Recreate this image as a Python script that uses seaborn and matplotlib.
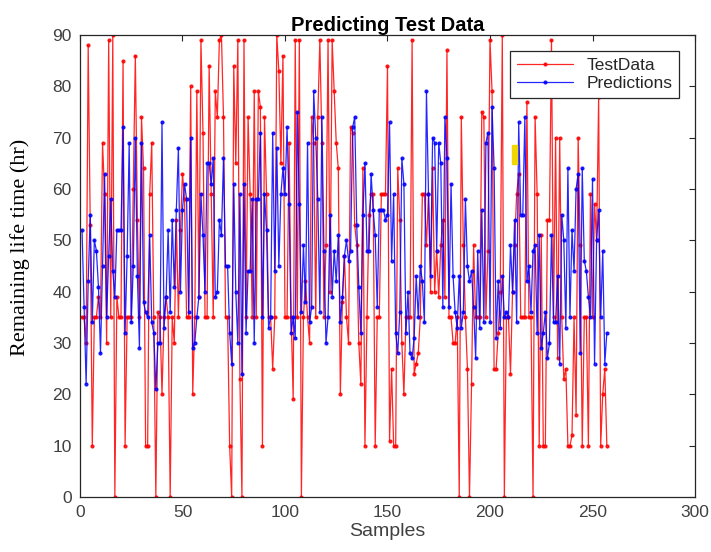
import numpy as np
import pandas as pd
import matplotlib
matplotlib.use('Agg')
import matplotlib.pyplot as plt
import seaborn as sns
from matplotlib.patches import Rectangle

# ---------------------------------------------------------
# Dados
# ---------------------------------------------------------
test_data = [
    35, 35, 30, 88, 53, 10, 35, 35, 39, 35, 69, 59, 30, 89, 35, 90, 0, 39, 35, 35, 85, 10, 35, 35, 35, 60, 86, 54,
    35, 74, 64, 10, 10, 59, 69, 35, 0, 36, 35, 20, 35, 39, 35, 0, 35, 30, 54, 35, 52, 63, 58, 35, 35, 80, 20, 35, 79,
    39, 89, 71, 35, 35, 84, 59, 35, 79, 74, 89, 90, 74, 35, 35, 10, 0, 84, 65, 89, 23, 0, 89, 35, 74, 59, 35, 79, 35,
    79, 76, 10, 74, 59, 35, 35, 25, 35, 90, 83, 65, 86, 35, 35, 69, 35, 19, 89, 35, 89, 0, 35, 42, 35, 30, 74, 69, 35, 74,
    89, 69, 35, 49, 89, 40, 89, 79, 69, 64, 20, 38, 47, 35, 30, 72, 71, 53, 49, 30, 22, 64, 10, 35, 55, 59, 59, 10,
    35, 35, 59, 59, 59, 84, 11, 25, 10, 10, 64, 54, 30, 20, 35, 35, 35, 89, 24, 26, 28, 35, 59, 59, 49, 59, 40, 64, 40,
    48, 39, 49, 54, 39, 87, 35, 35, 30, 30, 35, 0, 74, 49, 35, 25, 0, 22, 49, 35, 35, 35, 75, 74, 35, 48, 89, 79, 25, 25,
    32, 40, 90, 0, 35, 35, 24, 40, 49, 59, 63, 35, 35, 35, 77, 35, 35, 0, 74, 59, 10, 51, 10, 10, 54, 54, 89, 35, 70,
    27, 70, 35, 23, 25, 10, 10, 12, 35, 16, 70, 49, 10, 35, 35, 10, 59, 35, 57, 50, 78, 10, 20, 25, 10,
]

predictions = [
    52, 37, 22, 42, 55, 34, 50, 48, 41, 28, 45, 63, 35, 47, 58, 44, 39, 52, 52, 52, 72, 32, 47, 69, 34, 45, 70, 43,
    29, 69, 38, 36, 35, 51, 34, 32, 21, 30, 30, 73, 33, 39, 52, 36, 54, 41, 56, 68, 40, 56, 61, 58, 36, 70, 29, 30, 35,
    39, 59, 51, 40, 65, 65, 61, 66, 39, 40, 54, 51, 66, 45, 45, 32, 26, 61, 40, 30, 59, 24, 61, 32, 44, 44, 58, 30, 58,
    58, 71, 35, 59, 52, 33, 35, 71, 44, 68, 45, 59, 64, 59, 72, 57, 32, 35, 31, 75, 57, 36, 49, 38, 69, 34, 37, 79, 70,
    58, 36, 74, 48, 30, 35, 55, 39, 48, 42, 51, 34, 39, 47, 50, 46, 48, 72, 74, 53, 41, 32, 55, 65, 48, 48, 63, 56, 51,
    37, 56, 56, 56, 54, 55, 73, 46, 59, 32, 28, 36, 66, 61, 32, 40, 28, 27, 31, 43, 35, 45, 42, 34, 79, 59, 43, 70, 69,
    48, 69, 65, 37, 74, 66, 37, 61, 43, 36, 33, 43, 33, 36, 58, 45, 42, 44, 37, 27, 48, 33, 56, 34, 69, 71, 34, 76, 64, 31,
    42, 33, 43, 35, 36, 35, 49, 40, 54, 34, 73, 55, 55, 74, 42, 45, 36, 48, 49, 32, 51, 29, 32, 36, 27, 30, 51, 34, 34, 43, 26,
    55, 50, 33, 64, 35, 52, 44, 60, 63, 28, 64, 46, 44, 39, 35, 62, 26, 50, 56, 35, 48, 26, 32,
]

samples = list(range(1, len(test_data) + 1))
x_ticks = [0, 50, 100, 150, 200, 250, 300]
y_ticks = [0, 10, 20, 30, 40, 50, 60, 70, 80, 90]

df = pd.DataFrame({'Samples': samples, 'TestData': test_data, 'Predictions': predictions})

# ---------------------------------------------------------
# Estilo (parecido com o MATLAB)
# ---------------------------------------------------------
sns.set_theme(style='white')
plt.rcParams['font.family'] = ['Liberation Sans', 'DejaVu Sans']
plt.rcParams.update({
    'xtick.direction': 'in',
    'ytick.direction': 'in',
    'xtick.top': True,
    'ytick.right': True,
})

fig = plt.figure(figsize=(7.11, 5.52), dpi=100)
ax = fig.add_axes([0.1125, 0.0996, 0.865, 0.837])

sns.lineplot(data=df, x='Samples', y='TestData', color='red', marker='.', markersize=4.5,
             markeredgecolor='red', linewidth=0.9, alpha=0.85, ax=ax, label='TestData')
sns.lineplot(data=df, x='Samples', y='Predictions', color='blue', marker='.', markersize=4.5,
             markeredgecolor='blue', linewidth=0.9, alpha=0.85, ax=ax, label='Predictions')

# pequena marca amarela que aparece na figura original
ax.add_patch(Rectangle((210.6, 64.8), 2.6, 3.8, color='#f2d600', zorder=5))

ax.set_xlim(0, 300)
ax.set_ylim(0, 90)
ax.set_xticks(x_ticks)
ax.set_yticks(y_ticks)
ax.tick_params(length=4, width=0.8, colors='#262626', labelsize=12.5, pad=6)
ax.tick_params(axis='x', labelcolor='#404040')
ax.tick_params(axis='y', labelcolor='#404040')
for sp in ax.spines.values():
    sp.set_color('#262626')
    sp.set_linewidth(0.9)

ax.set_title('Predicting Test Data', fontsize=14.5, fontweight='bold', color='black', pad=3)
ax.set_xlabel('Samples', fontsize=14, color='#404040', labelpad=2)
ax.set_ylabel('Remaining life time (hr)', family=['Liberation Serif'], fontsize=16,
              color='black')
ax.yaxis.set_label_coords(-0.082, 0.54)

leg = ax.legend(loc='upper right', fontsize=12.5, frameon=True, fancybox=False,
                framealpha=1, edgecolor='#262626', handlelength=3.2,
                borderaxespad=0.9, borderpad=0.4, labelspacing=0.2)
leg.get_frame().set_linewidth(0.9)
for t in leg.get_texts():
    t.set_color('#262626')

plt.savefig('out.png', dpi=100)
